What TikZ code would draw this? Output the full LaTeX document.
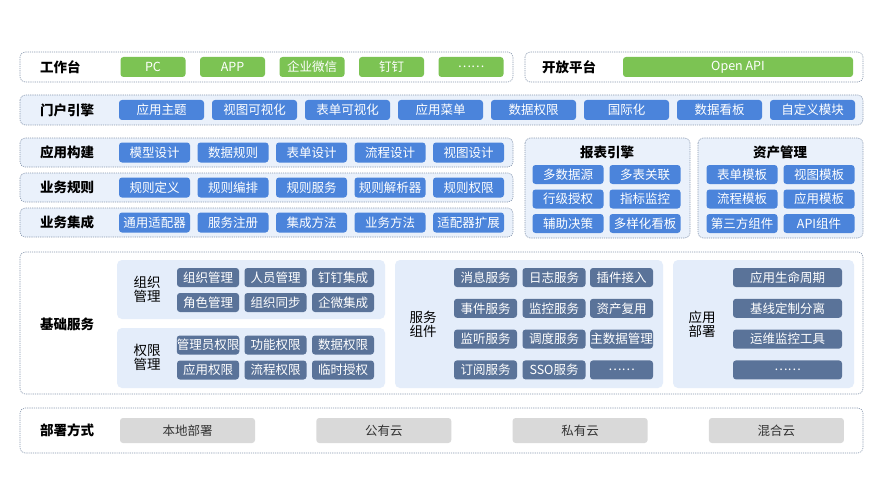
\documentclass[tikz,border=0pt]{standalone}
\usepackage{fontspec}
\setmainfont{Noto Sans CJK SC}
\usepackage{xcolor}
\usepackage{tikz}
\definecolor{framegray}{HTML}{8797AE}
\definecolor{rowblue}{HTML}{EAF1FB}
\definecolor{panelblue}{HTML}{E4EDFA}
\definecolor{workgreen}{HTML}{7CC353}
\definecolor{modblue}{HTML}{4B84DB}
\definecolor{baseslate}{HTML}{5A7399}
\definecolor{deploygray}{HTML}{D9D9D9}

\begin{document}
\begin{tikzpicture}[
    x=1pt, y=-1pt,
    frame/.style={draw=framegray, line width=0.6pt, dash pattern=on 1.2pt off 1pt, rounded corners=5pt},
    panel/.style={fill=panelblue, rounded corners=5pt},
    rowlabel/.style={anchor=west, inner sep=0pt, font=\fontsize{13.5}{15}\selectfont\bfseries},
    title/.style={inner sep=0pt, font=\fontsize{13.5}{15}\selectfont\bfseries},
    sublabel/.style={inner sep=0pt, align=center, font=\fontsize{13.5}{14}\selectfont},
    box/.style={rounded corners=3pt, inner sep=0pt, text=white, minimum height=20pt, font=\fontsize{12.5}{14}\selectfont},
    greenbox/.style={box, fill=workgreen, minimum width=65pt},
    bluebox/.style={box, fill=modblue},
    slatebox/.style={box, fill=baseslate, minimum height=19pt},
    graybox/.style={box, fill=deploygray, text=black!80, minimum width=135pt, minimum height=25pt}
]
\useasboundingbox (0,0) rectangle (888,500);

% workbench and open platform
\draw[frame, fill=white] (20,52) rectangle (513,82);
\node[rowlabel] (workbench) at (40,67) {工作台};
\foreach \t [count=\i from 0] in {PC,APP,企业微信,钉钉,……}
    \node[greenbox] (wb\i) at ({153+79.5*\i},67) {\t};
\draw[frame, fill=white] (525,52) rectangle (863,82);
\node[rowlabel] (openplat) at (542,67) {开放平台};
\node[greenbox, minimum width=230pt] (openapi) at (738,67) {Open API};

% portal engine
\draw[frame, fill=rowblue] (20,95) rectangle (863,125);
\node[rowlabel] (portal) at (40,110) {门户引擎};
\foreach \t [count=\i from 0] in {应用主题,视图可视化,表单可视化,应用菜单,数据权限,国际化,数据看板,自定义模块}
    \node[bluebox, minimum width=85pt] (pt\i) at ({161.5+93*\i},110) {\t};

% build, rules, integration
\draw[frame, fill=rowblue] (20,138) rectangle (513,167);
\draw[frame, fill=rowblue] (20,173) rectangle (513,202);
\draw[frame, fill=rowblue] (20,208) rectangle (513,237);
\node[rowlabel] (build) at (40,152.5) {应用构建};
\node[rowlabel] (rules) at (40,187.5) {业务规则};
\node[rowlabel] (integ) at (40,222.5) {业务集成};
\foreach \t [count=\i from 0] in {模型设计,数据规则,表单设计,流程设计,视图设计}
    \node[bluebox, minimum width=71pt] (bd\i) at ({154.5+78.5*\i},152.5) {\t};
\foreach \t [count=\i from 0] in {规则定义,规则编排,规则服务,规则解析器,规则权限}
    \node[bluebox, minimum width=71pt] (rl\i) at ({154.5+78.5*\i},187.5) {\t};
\foreach \t [count=\i from 0] in {通用适配器,服务注册,集成方法,业务方法,适配器扩展}
    \node[bluebox, minimum width=71pt] (ig\i) at ({154.5+78.5*\i},222.5) {\t};

% report engine
\draw[frame, fill=rowblue] (525,138) rectangle (690,238);
\node[title] (report) at (607,152) {报表引擎};
\foreach \a/\b [count=\i from 0] in {多数据源/多表关联,行级授权/指标监控,辅助决策/多样化看板} {
    \node[bluebox, minimum width=71pt, minimum height=19pt] (rpa\i) at (568,{174.5+24.5*\i}) {\a};
    \node[bluebox, minimum width=71pt, minimum height=19pt] (rpb\i) at (645,{174.5+24.5*\i}) {\b};
}

% asset management
\draw[frame, fill=rowblue] (698,138) rectangle (863,238);
\node[title] (asset) at (780,152) {资产管理};
\foreach \a/\b [count=\i from 0] in {表单模板/视图模板,流程模板/应用模板,第三方组件/API组件} {
    \node[bluebox, minimum width=71pt, minimum height=19pt] (asa\i) at (742,{174.5+24.5*\i}) {\a};
    \node[bluebox, minimum width=71pt, minimum height=19pt] (asb\i) at (819,{174.5+24.5*\i}) {\b};
}

% base services
\draw[frame, fill=white] (20,252) rectangle (863,394);
\node[rowlabel] (base) at (40,324) {基础服务};
\fill[panel] (117,260) rectangle (385,319);
\fill[panel] (117,328) rectangle (385,388);
\fill[panel] (395,260) rectangle (663,388);
\fill[panel] (673,260) rectangle (854,388);
\node[sublabel] (org) at (147,289) {组织\\管理};
\node[sublabel] (perm) at (147,357) {权限\\管理};
\node[sublabel] (svc) at (423,324) {服务\\组件};
\node[sublabel] (dep) at (702,324) {应用\\部署};
\foreach \a/\b/\c [count=\i from 0] in {组织管理/人员管理/钉钉集成,角色管理/组织同步/企微集成} {
    \node[slatebox, minimum width=62pt] (oga\i) at (208,{277.5+25*\i}) {\a};
    \node[slatebox, minimum width=62pt] (ogb\i) at (275.5,{277.5+25*\i}) {\b};
    \node[slatebox, minimum width=62pt] (ogc\i) at (343,{277.5+25*\i}) {\c};
}
\foreach \a/\b/\c [count=\i from 0] in {管理员权限/功能权限/数据权限,应用权限/流程权限/临时授权} {
    \node[slatebox, minimum width=62pt] (pma\i) at (208,{345+25*\i}) {\a};
    \node[slatebox, minimum width=62pt] (pmb\i) at (275.5,{345+25*\i}) {\b};
    \node[slatebox, minimum width=62pt] (pmc\i) at (343,{345+25*\i}) {\c};
}
\foreach \a/\b/\c/\d [count=\i from 0] in {消息服务/日志服务/插件接入/应用生命周期,事件服务/监控服务/资产复用/基线定制分离,监听服务/调度服务/主数据管理/运维监控工具,订阅服务/SSO服务/……/……} {
    \node[slatebox, minimum width=63pt] (sva\i) at (485.5,{277.5+30.8*\i}) {\a};
    \node[slatebox, minimum width=63pt] (svb\i) at (554,{277.5+30.8*\i}) {\b};
    \node[slatebox, minimum width=63pt] (svc\i) at (621.5,{277.5+30.8*\i}) {\c};
    \node[slatebox, minimum width=109pt] (dp\i) at (787.5,{277.5+30.8*\i}) {\d};
}

% deployment
\draw[frame, fill=white] (20,408) rectangle (863,453);
\node[rowlabel] (deploy) at (40,430.5) {部署方式};
\foreach \t [count=\i from 0] in {本地部署,公有云,私有云,混合云}
    \node[graybox] (dm\i) at ({187.5+196.3*\i},430.5) {\t};
\end{tikzpicture}
\end{document}
